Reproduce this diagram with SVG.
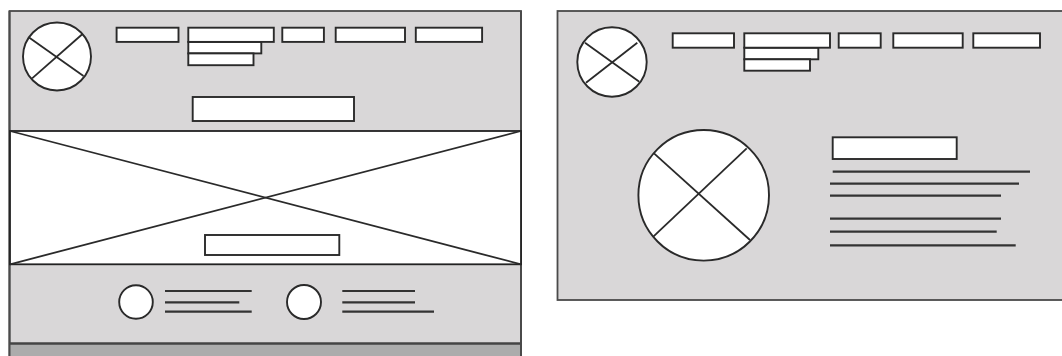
<svg xmlns="http://www.w3.org/2000/svg" width="1062" height="356" viewBox="0 0 1062 356">
<style>
.frame{fill:#d9d7d8;stroke:#4a4a4a;stroke-width:1.8}
.box{fill:#fff;stroke:#2a2a2a;stroke-width:1.9}
.ln{stroke:#2a2a2a;stroke-width:1.8;fill:none}
.tx{stroke:#333;stroke-width:2.2;fill:none}
</style>
<rect width="1062" height="356" fill="#fff"/>
<g id="left-page">
  <rect class="frame" x="9.5" y="11" width="511.5" height="360"/>
  <rect x="9.5" y="343" width="511.5" height="14" fill="#acacac"/>
  <line x1="9.5" y1="343.5" x2="521" y2="343.5" stroke="#444" stroke-width="2.6"/>
  <line x1="9.5" y1="11" x2="9.5" y2="356" stroke="#4a4a4a" stroke-width="2"/>
  <line x1="521" y1="11" x2="521" y2="356" stroke="#4a4a4a" stroke-width="2"/>
</g>
<g id="left-logo">
  <circle class="box" cx="57" cy="56.5" r="34"/>
  <line class="ln" x1="28.7" y1="37.2" x2="83.5" y2="76.1"/>
  <line class="ln" x1="32.1" y1="78.4" x2="82.8" y2="33.8"/>
</g>
<g id="left-nav">
  <rect class="box" x="116.6" y="27.7" width="61.9" height="14.2"/>
  <rect class="box" x="188.3" y="41.9" width="73" height="11.5"/>
  <rect class="box" x="188.3" y="53.4" width="65.2" height="11.8"/>
  <rect class="box" x="188.3" y="27.7" width="85.5" height="14.2"/>
  <rect class="box" x="282.3" y="27.7" width="41.6" height="14.2"/>
  <rect class="box" x="335.7" y="27.7" width="69.3" height="14.2"/>
  <rect class="box" x="415.8" y="27.7" width="66.3" height="14.2"/>
</g>
<g id="left-title">
  <rect class="box" x="192.7" y="97" width="161.3" height="24"/>
</g>
<g id="left-hero">
  <rect x="10" y="131" width="511" height="133.3" fill="#fff" stroke="#222" stroke-width="1.8"/>
  <line class="ln" x1="10" y1="131" x2="521" y2="264.3"/>
  <line class="ln" x1="10" y1="264.3" x2="521" y2="131"/>
  <rect class="box" x="205" y="235" width="134.3" height="20"/>
</g>
<g id="left-feature-1">
  <circle class="box" cx="136" cy="302" r="16.8"/>
  <line class="tx" x1="165" y1="291" x2="251.7" y2="291"/>
  <line class="tx" x1="165" y1="302.3" x2="239.3" y2="302.3"/>
  <line class="tx" x1="165" y1="311.7" x2="251.7" y2="311.7"/>
</g>
<g id="left-feature-2">
  <circle class="box" cx="304" cy="302" r="17"/>
  <line class="tx" x1="342.3" y1="291" x2="415" y2="291"/>
  <line class="tx" x1="342.3" y1="302.3" x2="415" y2="302.3"/>
  <line class="tx" x1="342.3" y1="311.7" x2="434" y2="311.7"/>
</g>
<g id="right-page">
  <rect class="frame" x="557.5" y="11" width="520" height="289"/>
</g>
<g id="right-logo">
  <circle class="box" cx="612" cy="62" r="34.7"/>
  <line class="ln" x1="585" y1="42.7" x2="639.3" y2="81.7"/>
  <line class="ln" x1="586" y1="82.7" x2="637.3" y2="42.7"/>
</g>
<g id="right-nav">
  <rect class="box" x="672.7" y="33.3" width="61.3" height="14.4"/>
  <rect class="box" x="744.3" y="47.7" width="74" height="11.6"/>
  <rect class="box" x="744.3" y="59.3" width="65.7" height="11.4"/>
  <rect class="box" x="744.3" y="33.3" width="85.7" height="14.4"/>
  <rect class="box" x="838.7" y="33.3" width="42" height="14.4"/>
  <rect class="box" x="893.3" y="33.3" width="69.4" height="14.4"/>
  <rect class="box" x="973.3" y="33.3" width="66.7" height="14.4"/>
</g>
<g id="right-image">
  <circle class="box" cx="703.7" cy="195.3" r="65.3"/>
  <line class="ln" x1="654" y1="153.3" x2="750" y2="240"/>
  <line class="ln" x1="653.3" y1="236.7" x2="746.7" y2="148.3"/>
</g>
<g id="right-text">
  <rect class="box" x="832.7" y="137.3" width="124" height="21.7"/>
  <line class="tx" x1="832.7" y1="171.7" x2="1030" y2="171.7"/>
  <line class="tx" x1="830" y1="183.7" x2="1019" y2="183.7"/>
  <line class="tx" x1="830" y1="195.7" x2="1001" y2="195.7"/>
  <line class="tx" x1="830" y1="218.7" x2="1001" y2="218.7"/>
  <line class="tx" x1="830" y1="231.7" x2="996.7" y2="231.7"/>
  <line class="tx" x1="830" y1="245.3" x2="1015.7" y2="245.3"/>
</g>
<g id="connectors"></g>
</svg>
